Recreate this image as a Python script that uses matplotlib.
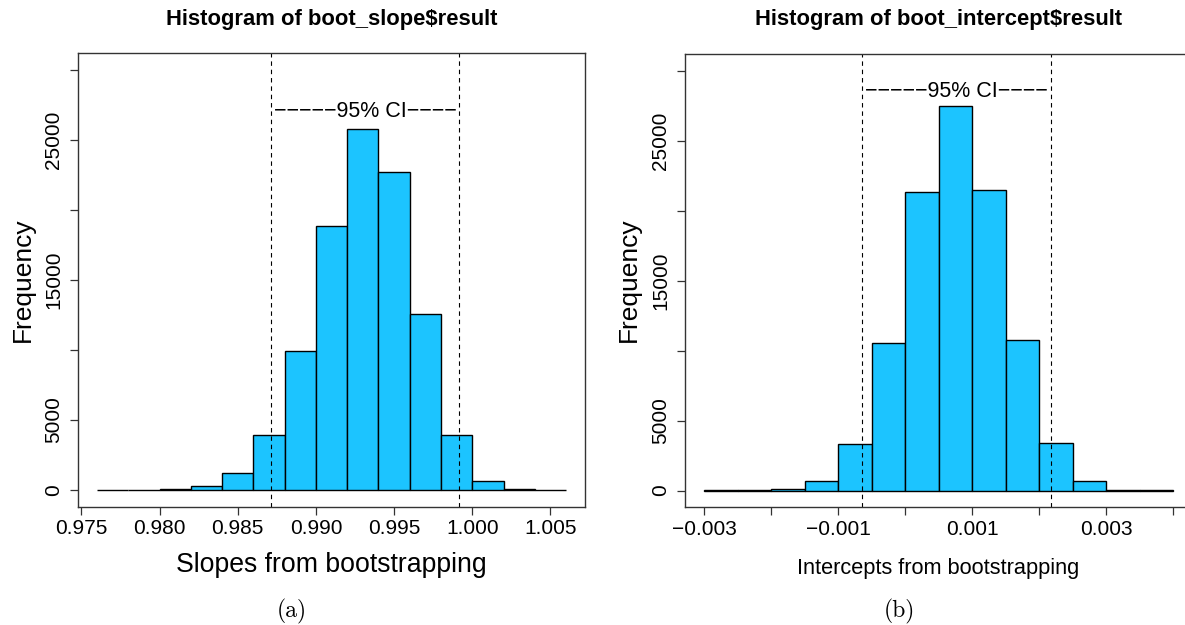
import matplotlib
matplotlib.use("Agg")
import matplotlib.pyplot as plt

plt.rcParams['font.family'] = ['Liberation Sans', 'DejaVu Sans']

# Bootstrap slope distribution
slope_breaks = [0.976, 0.978, 0.980, 0.982, 0.984, 0.986, 0.988, 0.990,
                0.992, 0.994, 0.996, 0.998, 1.000, 1.002, 1.004, 1.006]
slope_counts = [5, 15, 50, 300, 1190, 3940, 9900, 18820, 25780, 22700,
                12580, 3920, 650, 40, 5]
slope_ci = [0.98712, 0.99917]
slope_xticks = [0.975, 0.980, 0.985, 0.990, 0.995, 1.000, 1.005]
slope_xlabels = ['0.975', '0.980', '0.985', '0.990', '0.995', '1.000', '1.005']

# Bootstrap intercept distribution
intercept_breaks = [-0.003, -0.0025, -0.002, -0.0015, -0.001, -0.0005, 0.0,
                    0.0005, 0.001, 0.0015, 0.002, 0.0025, 0.003, 0.0035, 0.004]
intercept_counts = [5, 20, 90, 690, 3330, 10510, 21370, 27510, 21490, 10730,
                    3380, 690, 70, 10]
intercept_ci = [-0.00065, 0.002175]
intercept_xticks = [-0.003, -0.002, -0.001, 0.0, 0.001, 0.002, 0.003, 0.004]
intercept_xlabels = ['\u22120.003', '', '\u22120.001', '', '0.001', '', '0.003', '']

freq_ticks = [0, 5000, 10000, 15000, 20000, 25000, 30000]
freq_labels = ['0', '5000', '', '15000', '', '25000', '']

W, H = 1185, 625
BAR = '#1cc4ff'
AX = '#333333'

fig = plt.figure(figsize=(W / 100, H / 100), dpi=100)


def px_axes(x0, y0, x1, y1):
    return fig.add_axes([x0 / W, 1 - y1 / H, (x1 - x0) / W, (y1 - y0) / H])


def draw_hist(ax, breaks, counts, ci, xticks, xlabels, ci_y):
    lefts = breaks[:-1]
    widths = [b - a for a, b in zip(breaks[:-1], breaks[1:])]
    ax.bar(lefts, counts, width=widths, align='edge', color=BAR,
           edgecolor='black', linewidth=1.0)
    pad = 0.04 * (breaks[-1] - breaks[0])
    ax.set_xlim(breaks[0] - pad, breaks[-1] + pad)
    ax.set_ylim(-1200, 31200)
    for x in ci:
        ax.axvline(x, color='black', linewidth=0.8, dashes=(4, 3.5))
    ax.text((ci[0] + ci[1]) / 2, ci_y, '\u2212' * 5 + '95% CI' + '\u2212' * 4,
            ha='center', va='center', fontsize=15.5)
    ax.set_xticks(xticks)
    ax.set_xticklabels(xlabels)
    ax.set_yticks(freq_ticks)
    ax.set_yticklabels(freq_labels, rotation=90, va='center')
    ax.tick_params(axis='both', direction='out', length=6, width=0.9,
                   color=AX, labelsize=15, labelcolor='black')
    ax.tick_params(axis='x', pad=3)
    ax.tick_params(axis='y', pad=5)
    for s in ax.spines.values():
        s.set_color(AX)
        s.set_linewidth(1.0)


ax1 = px_axes(78.3, 52.7, 584.8, 506.7)
draw_hist(ax1, slope_breaks, slope_counts, slope_ci, slope_xticks,
          slope_xlabels, 27000)

ax2 = px_axes(685.3, 54.0, 1191.8, 507.3)
draw_hist(ax2, intercept_breaks, intercept_counts, intercept_ci,
          intercept_xticks, intercept_xlabels, 28500)

# Titles
fig.text(331.5 / W, 1 - 25 / H, 'Histogram of boot_slope$result',
         ha='center', va='baseline', fontsize=15.8, fontweight='bold')
fig.text(938.5 / W, 1 - 25.5 / H, 'Histogram of boot_intercept$result',
         ha='center', va='baseline', fontsize=15.8, fontweight='bold')

# Axis labels
fig.text(331.5 / W, 1 - 572 / H, 'Slopes from bootstrapping',
         ha='center', va='baseline', fontsize=19.2)
fig.text(938.5 / W, 1 - 574 / H, 'Intercepts from bootstrapping',
         ha='center', va='baseline', fontsize=15.7)
fig.text(22.5 / W, 1 - 280 / H, 'Frequency', rotation=90,
         ha='center', va='center', fontsize=19)
fig.text(629 / W, 1 - 280 / H, 'Frequency', rotation=90,
         ha='center', va='center', fontsize=19)

# Sub-figure captions
fig.text(291.6 / W, 1 - 611 / H, '(a)', family='cmr10',
         ha='center', va='center', fontsize=17)
fig.text(899 / W, 1 - 611 / H, '(b)', family='cmr10',
         ha='center', va='center', fontsize=17)

fig.savefig('out.png', dpi=100)
